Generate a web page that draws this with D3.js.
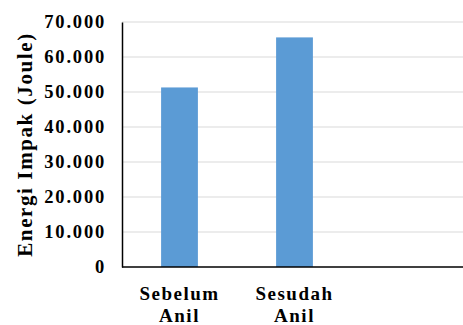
<!DOCTYPE html>
<html><head><meta charset="utf-8">
<script src="https://cdn.jsdelivr.net/npm/d3@7"></script>
<style>body{margin:0;background:#fff}</style>
</head><body>
<svg id="c" width="463" height="325"></svg>
<script>
const categories = [["Sebelum","Anil"],["Sesudah","Anil"],["",""]];
const values = [51300, 65600, null];
const yTicks = [0,10000,20000,30000,40000,50000,60000,70000];
const yTickLabels = ["0","10.000","20.000","30.000","40.000","50.000","60.000","70.000"];
const yTitle = "Energi Impak (Joule)";

const svg = d3.select("#c");
const L=122, R=467, T=22, B=267;
const x = d3.scaleBand().domain(d3.range(categories.length)).range([L,R]).paddingInner(0.68).paddingOuter(0.34);
const y = d3.scaleLinear().domain([0,70000]).range([B,T]);

// gridlines
svg.append("g").selectAll("line").data(yTicks.filter(d=>d>0)).join("line")
  .attr("x1",L).attr("x2",463).attr("y1",d=>y(d)).attr("y2",d=>y(d))
  .attr("stroke","#d9d9d9").attr("stroke-width",1.2);

// bars
svg.append("g").selectAll("rect").data(values.map((v,i)=>({v,i})).filter(d=>d.v!=null)).join("rect")
  .attr("x",d=>x(d.i)).attr("width",x.bandwidth())
  .attr("y",d=>y(d.v)).attr("height",d=>B-y(d.v))
  .attr("fill","#5b9bd5");

// axes lines
const yAxis = d3.axisLeft(y).tickValues(yTicks).tickFormat((d,i)=>yTickLabels[i]).tickSize(0).tickPadding(16);
const gy = svg.append("g").attr("transform",`translate(${L},0)`).call(yAxis);
gy.select(".domain").attr("stroke","#000").attr("stroke-width",1.5);
gy.selectAll("text").attr("font-family","Liberation Serif").attr("font-weight","bold").attr("font-size","18.5px")
  .attr("letter-spacing","1.8px").attr("fill","#000");

svg.append("line").attr("x1",L).attr("x2",463).attr("y1",B).attr("y2",B).attr("stroke","#000").attr("stroke-width",1.5);

// x labels
const xl = svg.append("g").selectAll("text").data(categories.map((c,i)=>({c,i}))).join("text")
  .attr("x",d=>x(d.i)+x.bandwidth()/2).attr("text-anchor","middle")
  .attr("font-family","Liberation Serif").attr("font-weight","bold").attr("font-size","19px")
  .attr("letter-spacing","1.5px").attr("fill","#000");
xl.append("tspan").attr("x",d=>x(d.i)+x.bandwidth()/2).attr("y",300).text(d=>d.c[0]);
xl.append("tspan").attr("x",d=>x(d.i)+x.bandwidth()/2).attr("y",322).text(d=>d.c[1]);

// y title
svg.append("text").attr("transform",`translate(32,${(T+B)/2}) rotate(-90)`).attr("text-anchor","middle")
  .attr("font-family","Liberation Serif").attr("font-weight","bold").attr("font-size","21px")
  .attr("letter-spacing","1.6px").attr("fill","#000")
  .text(yTitle);
</script>
</body></html>
